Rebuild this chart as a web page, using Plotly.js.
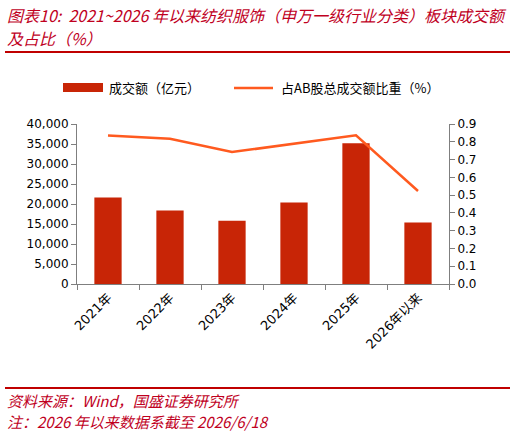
<!DOCTYPE html>
<html>
<head>
<meta charset="utf-8">
<script src="https://cdn.plot.ly/plotly-3.0.1.min.js"></script>
<style>html,body{margin:0;padding:0;background:#fff;}#chart{width:515px;height:434px;}</style>
</head>
<body>
<div id="chart"></div>
<script>
const categories = ['2021年', '2022年', '2023年', '2024年', '2025年', '2026年以来'];
const turnover = [21600, 18400, 15800, 20400, 35200, 15400];
const shareOfAB = [0.836, 0.817, 0.742, 0.789, 0.836, 0.523];
const barName = '成交额（亿元）';
const lineName = '占AB股总成交额比重（%）';
const titleLine1 = '图表10:  2021~2026 年以来纺织服饰（申万一级行业分类）板块成交额';
const titleLine2 = '及占比（%）';
const sourceText = '资料来源：Wind，国盛证券研究所';
const noteText = '注：2026 年以来数据系截至 2026/6/18';

const FONT = 'DejaVu Sans, Noto Sans CJK SC, sans-serif';
const CJK = 'Noto Sans CJK SC, DejaVu Sans, sans-serif';
const RED = '#C0001E';
const BAR = '#C82506';
const LINE = '#FF5A1F';
const AX = '#7f7f7f';

// pixel -> paper helpers (plot area: x 77..449, y 124..284)
const px = v => (v - 77) / 372;
const py = v => (284 - v) / 160;

const traces = [
  {type: 'bar', x: categories, y: turnover, name: barName, marker: {color: BAR}, yaxis: 'y', showlegend: false},
  {type: 'scatter', mode: 'lines', x: categories, y: shareOfAB, name: lineName, yaxis: 'y2',
   line: {color: LINE, width: 2.5}, showlegend: false}
];

const layout = {
  width: 515, height: 434,
  margin: {l: 77, r: 66, t: 124, b: 150},
  paper_bgcolor: '#fff', plot_bgcolor: '#fff',
  font: {family: FONT, size: 12, color: '#000'},
  bargap: 0.56,
  xaxis: {type: 'category', showline: true, linecolor: AX, linewidth: 1, ticks: 'outside',
          tickson: 'boundaries', ticklen: 5, tickcolor: AX, tickangle: -45,
          tickfont: {family: FONT, size: 13, color: '#000'}, showgrid: false, zeroline: false},
  yaxis: {range: [0, 40000], dtick: 5000, tickformat: ',d', showline: true, linecolor: AX,
          ticks: 'outside', ticklen: 5, tickcolor: AX, showgrid: false, zeroline: false,
          tickfont: {family: FONT, size: 12, color: '#000'}},
  yaxis2: {range: [0, 0.9], dtick: 0.1, tickformat: '.1f', overlaying: 'y', side: 'right',
           showline: true, linecolor: AX, ticks: 'outside', ticklen: 5, tickcolor: AX,
           showgrid: false, zeroline: false, tickfont: {family: FONT, size: 12, color: '#000'}},
  shapes: [
    {type: 'line', xref: 'paper', yref: 'paper', x0: px(5), x1: px(510), y0: py(52), y1: py(52),
     line: {color: '#C00000', width: 2}},
    {type: 'line', xref: 'paper', yref: 'paper', x0: px(5), x1: px(510), y0: py(388), y1: py(388),
     line: {color: '#C00000', width: 2}},
    {type: 'rect', xref: 'paper', yref: 'paper', x0: px(63), x1: px(103),
     y0: py(92), y1: py(83), fillcolor: BAR, line: {width: 0}},
    {type: 'line', xref: 'paper', yref: 'paper', x0: px(234), x1: px(273),
     y0: py(88), y1: py(88), line: {color: LINE, width: 2.5}}
  ],
  annotations: [
    {xref: 'paper', yref: 'paper', x: px(5), y: py(15), xanchor: 'left', yanchor: 'middle',
     text: titleLine1, showarrow: false, font: {family: CJK, size: 16, color: RED, style: 'italic'}},
    {xref: 'paper', yref: 'paper', x: px(5), y: py(38), xanchor: 'left', yanchor: 'middle',
     text: titleLine2, showarrow: false, font: {family: CJK, size: 16, color: RED, style: 'italic'}},
    {xref: 'paper', yref: 'paper', x: px(107), y: py(88), xanchor: 'left', yanchor: 'middle',
     text: barName, showarrow: false, font: {family: CJK, size: 13, color: '#000'}},
    {xref: 'paper', yref: 'paper', x: px(279), y: py(88), xanchor: 'left', yanchor: 'middle',
     text: lineName, showarrow: false, font: {family: CJK, size: 13, color: '#000'}},
    {xref: 'paper', yref: 'paper', x: px(5), y: py(400), xanchor: 'left', yanchor: 'middle',
     text: sourceText, showarrow: false, font: {family: CJK, size: 15, color: RED, style: 'italic'}},
    {xref: 'paper', yref: 'paper', x: px(5), y: py(421), xanchor: 'left', yanchor: 'middle',
     text: noteText, showarrow: false, font: {family: CJK, size: 15, color: RED, style: 'italic'}}
  ]
};

Plotly.newPlot('chart', traces, layout, {displayModeBar: false, staticPlot: true});
</script>
</body>
</html>
